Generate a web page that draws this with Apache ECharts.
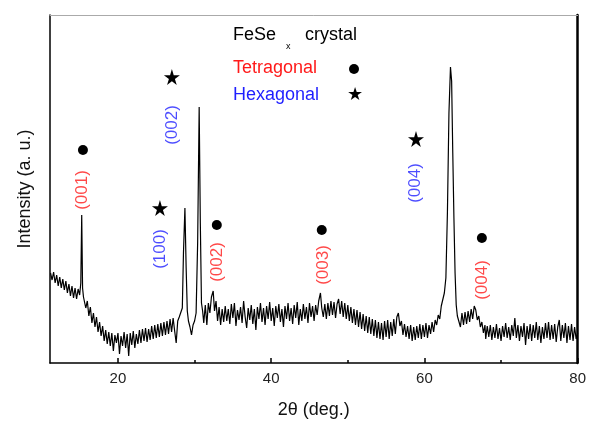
<!DOCTYPE html>
<html>
<head>
<meta charset="utf-8">
<script src="https://cdn.jsdelivr.net/npm/echarts@6/dist/echarts.min.js"></script>
<style>
html, body { margin: 0; background: #fff; }
#chart { width: 589px; height: 426px; }
</style>
</head>
<body>
<div id="chart"></div>
<script>
// XRD pattern: [2theta, intensity (a.u.)]
const pattern = [
  [11.2,90],[11.4,83],[11.6,91],[11.8,80],
  [12,88],[12.2,77],[12.4,86],[12.6,75],[12.8,84],
  [13,73],[13.2,82],[13.4,70],[13.6,79],[13.8,67],
  [14,77],[14.2,65],[14.4,75],[14.6,64],[14.8,74],
  [15,68],[15.15,80],[15.27,148],[15.38,75],[15.5,66],[15.6,64],[15.8,55],
  [16,62],[16.2,47],[16.4,56],[16.6,40],[16.8,50],
  [17,36],[17.2,46],[17.4,31],[17.6,41],[17.8,27],
  [18,37],[18.2,22],[18.4,33],[18.6,19],[18.8,31],
  [19,17],[19.2,30],[19.4,12],[19.6,28],[19.8,20],
  [20,30],[20.2,9],[20.4,27],[20.6,17],[20.8,31],
  [21,15],[21.2,29],[21.4,7],[21.6,30],[21.8,18],
  [22,32],[22.2,15],[22.4,29],[22.6,19],[22.8,33],
  [23,20],[23.2,34],[23.4,22],[23.6,35],[23.8,21],
  [24,34],[24.2,23],[24.4,37],[24.6,24],[24.8,38],
  [25,25],[25.2,39],[25.4,26],[25.6,40],[25.8,27],
  [26,41],[26.2,28],[26.4,42],[26.6,29],[26.8,44],
  [27,31],[27.2,45],[27.4,32],[27.6,20],[27.8,42],
  [28,46],[28.2,44],[28.4,55],[28.55,110],[28.74,155],[28.9,95],[29.05,52],[29.2,42],[29.4,36],[29.6,28],[29.8,38],
  [30,42],[30.2,50],[30.4,120],[30.6,256],[30.75,140],[30.9,60],[31.05,52],[31.2,40],[31.4,58],[31.6,38],[31.8,60],
  [32,50],[32.2,66],[32.43,72],[32.6,52],[32.8,62],
  [33,42],[33.2,56],[33.4,38],[33.6,54],[33.8,41],
  [34,57],[34.2,42],[34.4,54],[34.6,39],[34.8,59],
  [35,45],[35.2,60],[35.4,37],[35.6,53],[35.8,43],
  [36,56],[36.2,40],[36.4,62],[36.6,46],[36.8,35],
  [37,55],[37.2,43],[37.4,58],[37.6,39],[37.8,54],
  [38,33],[38.2,56],[38.4,44],[38.6,60],[38.8,41],
  [39,55],[39.2,38],[39.4,57],[39.6,44],[39.8,61],
  [40,42],[40.2,55],[40.4,37],[40.6,57],[40.8,45],
  [41,59],[41.2,41],[41.4,54],[41.6,36],[41.8,57],
  [42,44],[42.2,60],[42.4,42],[42.6,55],[42.8,39],
  [43,58],[43.2,45],[43.4,61],[43.6,38],[43.8,54],
  [44,42],[44.2,59],[44.4,44],[44.6,56],[44.8,40],
  [45,60],[45.2,46],[45.4,57],[45.6,42],[45.8,58],
  [46,48],[46.2,62],[46.43,70],[46.6,55],[46.8,46],
  [47,59],[47.2,44],[47.4,60],[47.6,47],[47.8,62],
  [48,48],[48.2,61],[48.4,45],[48.6,59],[48.8,64],
  [49,49],[49.2,62],[49.4,46],[49.6,60],[49.8,44],
  [50,58],[50.2,42],[50.4,56],[50.6,40],[50.8,54],
  [51,38],[51.2,53],[51.4,36],[51.6,51],[51.8,34],
  [52,49],[52.2,32],[52.4,47],[52.6,30],[52.8,46],
  [53,29],[53.2,44],[53.4,27],[53.6,43],[53.8,25],
  [54,41],[54.2,24],[54.4,40],[54.6,23],[54.8,42],
  [55,26],[55.2,43],[55.4,24],[55.6,41],[55.8,27],
  [56,44],[56.2,29],[56.4,46],[56.6,50],[56.8,37],
  [57,42],[57.2,28],[57.4,39],[57.6,26],[57.8,37],
  [58,24],[58.2,38],[58.4,22],[58.6,36],[58.8,23],
  [59,37],[59.2,25],[59.4,39],[59.6,24],[59.8,38],
  [60,26],[60.2,40],[60.4,25],[60.6,38],[60.8,29],
  [61,41],[61.2,31],[61.4,43],[61.6,38],[61.8,48],
  [62,44],[62.2,57],[62.4,55],[62.6,70],[62.8,85],[63,150],[63.2,250],[63.4,296],[63.55,282],[63.7,210],[63.85,145],[64,90],[64.15,58],[64.3,47],
  [64.5,48],[64.7,36],[64.9,50],[65.1,38],[65.3,51],[65.5,39],[65.7,52],[65.9,41],
  [66.1,54],[66.3,44],[66.5,57],[66.7,53],[66.9,43],[67.1,47],[67.3,36],[67.5,41],[67.7,30],[67.9,38],
  [68,24],[68.2,37],[68.4,26],[68.6,38],[68.8,23],
  [69,36],[69.2,25],[69.4,39],[69.6,24],[69.8,35],
  [70,22],[70.2,37],[70.4,26],[70.6,40],[70.8,25],
  [71,36],[71.2,23],[71.4,38],[71.6,27],[71.8,45],
  [72,25],[72.2,38],[72.4,22],[72.6,37],[72.8,26],
  [73,40],[73.2,18],[73.4,37],[73.6,24],[73.8,39],
  [74,22],[74.2,38],[74.4,25],[74.6,41],[74.8,23],
  [75,37],[75.2,20],[75.4,36],[75.6,24],[75.8,40],
  [76,25],[76.2,41],[76.4,23],[76.6,38],[76.8,24],
  [77,39],[77.2,21],[77.4,36],[77.6,43],[77.8,22],
  [78,38],[78.2,25],[78.4,40],[78.6,20],[78.8,37],
  [79,23],[79.2,39],[79.4,22],[79.6,36],[79.8,24],[80,30]
];

// marker positions above the peaks
const tetraMarks = [[15.43, 213], [32.9, 138], [46.6, 133], [67.5, 125]];
const hexaMarks = [[25.48, 155], [27.04, 286], [58.9, 224]];

// Miller index labels [2theta, height, text]
const tetraLabels = [[15.4, 173, "(001)"], [33.0, 101, "(002)"], [46.85, 98, "(003)"], [67.6, 83, "(004)"]];
const hexaLabels = [[25.48, 114, "(100)"], [27.04, 238, "(002)"], [58.75, 180, "(004)"]];

const majorTicks = [20, 40, 60, 80];
const minorTicks = [30, 50, 70];

const STAR = "path://M50,0 L61,35 L98,35 L68,57 L79,91 L50,70 L21,91 L32,57 L2,35 L39,35 Z";
const FONT = "Liberation Sans, Arial, sans-serif";
const RED = "#ff1a1a";
const BLUE = "#1f1fff";

const myChart = echarts.init(document.getElementById("chart"));

function labelSeries(data, color) {
  return {
    type: "scatter",
    data: data,
    symbolSize: 0,
    silent: true,
    label: {
      show: true,
      position: "inside",
      rotate: 90,
      formatter: (p) => p.value[2],
      color: color,
      fontSize: 17,
      fontFamily: FONT
    },
    z: 5
  };
}

const option = {
  animation: false,
  backgroundColor: "#fff",
  grid: { left: 50, right: 11, top: 15, bottom: 63 },
  xAxis: [
    {
      type: "value",
      min: 11.13,
      max: 80,
      name: "2θ (deg.)",
      nameLocation: "middle",
      nameGap: 38,
      nameTextStyle: { fontSize: 18, color: "#111", fontFamily: FONT },
      axisLine: { lineStyle: { color: "#000", width: 1.5 } },
      axisTick: { inside: true, length: 5, customValues: majorTicks, lineStyle: { color: "#000", width: 1.5 } },
      axisLabel: { customValues: majorTicks, fontSize: 15, color: "#222", margin: 8, fontFamily: FONT },
      splitLine: { show: false }
    },
    {
      type: "value",
      min: 11.13,
      max: 80,
      position: "bottom",
      axisLine: { show: false },
      axisTick: { inside: true, length: 3, customValues: minorTicks, lineStyle: { color: "#000", width: 1.5 } },
      axisLabel: { show: false },
      splitLine: { show: false }
    },
    {
      type: "value",
      min: 11.13,
      max: 80,
      position: "top",
      axisLine: { lineStyle: { color: "#aaa", width: 1 } },
      axisTick: { show: false },
      axisLabel: { show: false },
      splitLine: { show: false }
    }
  ],
  yAxis: [
    {
      type: "value",
      min: 0,
      max: 348,
      name: "Intensity (a. u.)",
      nameLocation: "middle",
      nameGap: 16,
      nameTextStyle: { fontSize: 18, color: "#111", fontFamily: FONT },
      axisLine: { show: true, lineStyle: { color: "#000", width: 1.5 } },
      axisTick: { show: false },
      axisLabel: { show: false },
      splitLine: { show: false }
    },
    {
      type: "value",
      min: 0,
      max: 348,
      position: "right",
      axisLine: { show: true, lineStyle: { color: "#000", width: 2.5 } },
      axisTick: { show: false },
      axisLabel: { show: false },
      splitLine: { show: false }
    }
  ],
  series: [
    {
      type: "line",
      data: pattern,
      showSymbol: false,
      symbol: "none",
      lineStyle: { color: "#000", width: 1.2 },
      z: 3
    },
    {
      type: "scatter",
      data: tetraMarks,
      symbol: "circle",
      symbolSize: 10,
      itemStyle: { color: "#000", opacity: 1 },
      z: 4
    },
    {
      type: "scatter",
      data: hexaMarks,
      symbol: STAR,
      symbolSize: 16,
      itemStyle: { color: "#000", opacity: 1 },
      z: 4
    },
    labelSeries(tetraLabels, RED),
    labelSeries(hexaLabels, BLUE)
  ],
  graphic: [
    { type: "text", left: 233, top: 26, style: { text: "FeSe", fontSize: 18, fill: "#000", fontFamily: FONT } },
    { type: "text", left: 286, top: 42, style: { text: "x", fontSize: 9, fill: "#000", fontFamily: FONT } },
    { type: "text", left: 305, top: 26, style: { text: "crystal", fontSize: 18, fill: "#000", fontFamily: FONT } },
    { type: "text", left: 233, top: 59, style: { text: "Tetragonal", fontSize: 18, fill: RED, fontFamily: FONT } },
    { type: "circle", shape: { cx: 354, cy: 69, r: 5 }, style: { fill: "#000" } },
    { type: "text", left: 233, top: 86, style: { text: "Hexagonal", fontSize: 18, fill: BLUE, fontFamily: FONT } },
    { type: "text", left: 347, top: 86, style: { text: "★", fontSize: 18, fill: "#000", fontFamily: "DejaVu Sans" } }
  ]
};

myChart.setOption(option, true);
</script>
</body>
</html>
